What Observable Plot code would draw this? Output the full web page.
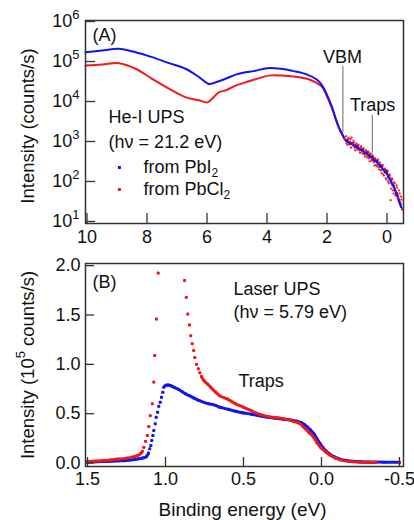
<!DOCTYPE html>
<html><head><meta charset="utf-8">
<script src="https://cdn.jsdelivr.net/npm/d3@7"></script>
<script src="https://cdn.jsdelivr.net/npm/@observablehq/plot@0.6"></script>
<style>
body{margin:0;background:#fff;}
#chart{width:414px;height:520px;position:relative;background:#fff;}
svg{display:block;}
</style></head><body><div id="chart"></div>
<script>
// ---------- Panel A: He-I UPS (binding energy eV, counts/s) ----------
const heBlue = [[10.05,1.7e5],[9.49,1.88e5],[8.94,2.09e5],[8.38,1.7e5],[7.83,1.29e5],[7.27,9.1e4],[6.72,6.6e4],[6.27,4.1e4],[5.94,2.75e4],[5.72,3.0e4],[5.38,3.7e4],[5.05,4.7e4],[4.72,5.4e4],[4.44,5.75e4],[3.99,6.8e4],[3.55,6.6e4],[3.11,5.75e4],[2.66,4.7e4],[2.33,3.5e4],[2.16,2.5e4],[1.99,1.4e4],[1.83,7.2e3],[1.72,3.9e3],[1.60,2.2e3],[1.49,1.5e3],[1.38,1.07e3],[1.2,890],[1.0,720],[0.8,575],[0.66,490],[0.5,390],[0.33,300],[0.15,210],[0.0,155],[-0.1,112],[-0.23,72],[-0.39,34],[-0.47,23]];
const heRed = [[10.05,7.9e4],[9.49,8.4e4],[8.94,9.1e4],[8.38,6.6e4],[7.83,3.7e4],[7.27,2.1e4],[6.72,1.29e4],[6.27,1.07e4],[5.99,9.5e3],[5.83,1.17e4],[5.61,1.7e4],[5.38,1.9e4],[5.05,2.5e4],[4.72,3.0e4],[4.44,3.5e4],[3.88,4.5e4],[3.22,4.3e4],[2.66,3.7e4],[2.38,3.0e4],[2.16,2.3e4],[1.99,1.29e4],[1.83,6.6e3],[1.72,3.9e3],[1.60,2.2e3],[1.49,1.5e3],[1.38,1.07e3],[1.2,890],[1.0,720],[0.8,575],[0.66,490],[0.5,390],[0.33,300],[0.15,210],[0.0,155],[-0.1,112],[-0.23,72],[-0.39,34],[-0.47,23]];
const heRedTail = [[1.40,1150],[1.37,1350],[1.35,900],[1.32,830],[1.30,1150],[1.28,1250],[1.26,850],[1.24,1000],[1.22,1150],[1.20,710],[1.18,1260],[1.16,900],[1.14,790],[1.12,1050],[1.10,950],[1.08,700],[1.06,600],[1.04,820],[1.02,890],[1.00,650],[0.98,630],[0.96,800],[0.95,830],[0.92,600],[0.90,525],[0.88,700],[0.86,760],[0.84,560],[0.82,500],[0.80,650],[0.78,680],[0.76,480],[0.74,420],[0.72,600],[0.70,600],[0.68,450],[0.66,400],[0.64,560],[0.62,550],[0.60,380],[0.58,320],[0.56,500],[0.54,480],[0.52,350],[0.50,330],[0.48,450],[0.46,420],[0.44,300],[0.42,250],[0.40,380],[0.38,360],[0.36,260],[0.34,240],[0.32,330],[0.30,355],[0.28,230],[0.26,200],[0.24,300],[0.22,265],[0.20,190],[0.18,160],[0.16,260],[0.14,250],[0.12,150],[0.10,140],[0.08,210],[0.06,200],[0.04,120],[0.02,112],[0.00,190],[-0.02,180],[-0.04,100],[-0.06,90],[-0.08,150],[-0.10,140],[-0.12,34],[-0.14,66],[-0.16,120],[-0.18,112],[-0.20,60],[-0.22,50],[-0.24,95],[-0.26,90],[-0.28,45],[-0.30,56],[-0.32,80],[-0.34,70],[-0.36,38],[-0.38,40],[-0.40,60],[-0.42,50],[-0.44,30],[-0.45,28],[-0.47,42],[-0.48,35],[-0.50,20]];
const heBlueTail = [[1.34,1100],[1.30,1000],[1.26,950],[1.22,860],[1.17,920],[1.12,850],[1.08,760],[1.05,740],[1.0,780],[0.96,720],[0.92,640],[0.88,620],[0.84,640],[0.80,600],[0.76,520],[0.72,500],[0.68,540],[0.64,500],[0.60,430],[0.56,410],[0.52,420],[0.48,400],[0.44,340],[0.40,330],[0.36,330],[0.32,320],[0.28,270],[0.24,240],[0.20,250],[0.16,230],[0.12,190],[0.08,170],[0.04,180],[0.0,170],[-0.03,130],[-0.06,120],[-0.09,115],[-0.12,110],[-0.15,90],[-0.18,80],[-0.21,82],[-0.24,75],[-0.27,60],[-0.30,50],[-0.33,52],[-0.36,45],[-0.39,36],[-0.42,30],[-0.44,28],[-0.46,25],[-0.49,22]];
const aTicksX = [10, 8, 6, 4, 2, 0];
const aTicksY = [1e1, 1e2, 1e3, 1e4, 1e5, 1e6];
const vbmLine = {x: 1.47, y1: 7.5e4, y2: 1.6e3};
const aTrapsLine = {x: 0.49, y1: 4.5e3, y2: 500};

// ---------- Panel B: Laser UPS (binding energy eV, 10^5 counts/s) ----------
const laserBlue = [[1.50,0.010],[1.45,0.012],[1.40,0.015],[1.35,0.018],[1.30,0.022],[1.25,0.027],[1.20,0.035],[1.17,0.043],[1.15,0.05],[1.139,0.053],[1.122,0.066],[1.109,0.10],[1.101,0.144],[1.094,0.177],[1.088,0.228],[1.081,0.279],[1.075,0.33],[1.066,0.397],[1.06,0.465],[1.051,0.515],[1.043,0.576],[1.034,0.617],[1.026,0.667],[1.017,0.718],[1.011,0.769],[1.0,0.785],[0.99,0.79],[0.98,0.79],[0.968,0.786],[0.955,0.775],[0.94,0.763],[0.915,0.745],[0.89,0.72],[0.87,0.70],[0.85,0.685],[0.82,0.66],[0.786,0.634],[0.75,0.612],[0.72,0.600],[0.68,0.585],[0.65,0.565],[0.60,0.545],[0.55,0.525],[0.50,0.508],[0.45,0.495],[0.40,0.48],[0.35,0.466],[0.30,0.455],[0.25,0.445],[0.20,0.437],[0.16,0.425],[0.13,0.41],[0.11,0.39],[0.09,0.365],[0.07,0.335],[0.05,0.30],[0.03,0.25],[0.01,0.20],[-0.01,0.155],[-0.03,0.12],[-0.05,0.095],[-0.08,0.065],[-0.11,0.045],[-0.15,0.028],[-0.20,0.018],[-0.25,0.013],[-0.30,0.011],[-0.40,0.009],[-0.50,0.008]];
const laserRed = [[1.50,0.015],[1.45,0.02],[1.40,0.025],[1.35,0.032],[1.30,0.040],[1.25,0.050],[1.20,0.065],[1.18,0.075],[1.16,0.095],[1.148,0.12],[1.139,0.16],[1.128,0.22],[1.117,0.28],[1.107,0.37],[1.098,0.48],[1.085,0.60],[1.075,0.82],[1.069,1.09],[1.058,1.46],[1.047,1.925],[0.878,1.85],[0.867,1.68],[0.857,1.51],[0.846,1.40],[0.838,1.29],[0.829,1.21],[0.819,1.14],[0.812,1.07],[0.801,1.0],[0.790,0.955],[0.780,0.915],[0.770,0.877],[0.754,0.837],[0.73,0.80],[0.712,0.77],[0.68,0.72],[0.65,0.68],[0.605,0.65],[0.55,0.60],[0.50,0.566],[0.45,0.53],[0.39,0.49],[0.34,0.47],[0.28,0.458],[0.23,0.445],[0.18,0.424],[0.14,0.40],[0.114,0.363],[0.08,0.31],[0.05,0.26],[0.03,0.21],[0.006,0.16],[-0.03,0.11],[-0.058,0.076],[-0.09,0.05],[-0.12,0.032],[-0.18,0.015],[-0.25,0.008],[-0.35,0.005],[-0.50,0.003]];
const bTicksX = [1.5, 1.0, 0.5, 0.0, -0.5];
const bTicksY = [0, 0.5, 1.0, 1.5, 2.0];

// ---------- styling ----------
const FONT = '"Liberation Sans", Arial, Helvetica, sans-serif';
const FS = 18;
const BLUE = "#1212f2", RED = "#f01818", AXC = "#333";
const W = 414;

const rows = (arr) => arr.map(([x, y]) => ({x, y}));

// split into line segments where the reference's dense dots stay separate (steep parts, off-scale gaps)
function segment(arr, kx, ky) {
  let seg = 0;
  return arr.map(([x, y], i) => {
    if (i > 0) {
      const dx = Math.abs(x - arr[i-1][0]) * kx, dy = Math.abs(y - arr[i-1][1]) * ky;
      if (dy > 2.2 * dx || dx > 20) seg++;
    }
    return {x, y, seg};
  });
}

function rich(svg, fs) {
  d3.select(svg).selectAll("text").each(function() {
    const s = this.textContent;
    if (!/[\^_]\{/.test(s)) return;
    const el = d3.select(this);
    el.selectAll("*").remove(); el.text(null);
    const re = /([\^_])\{([^}]*)\}/g;
    let last = 0, m, shift = 0;
    const add = (txt, kind) => {
      const t = el.append("tspan").text(txt);
      const target = kind === "^" ? -0.45 * fs : kind === "_" ? 0.2 * fs : 0;
      if (target - shift) t.attr("dy", target - shift);
      shift = target;
      if (kind) t.attr("font-size", Math.round((kind === "_" ? 0.68 : 0.72) * fs));
    };
    while ((m = re.exec(s))) {
      if (m.index > last) add(s.slice(last, m.index), null);
      add(m[2], m[1]);
      last = re.lastIndex;
    }
    if (last < s.length) add(s.slice(last), null);
  });
}

function insideTicks(tx, ty, fw, fh, len) {
  return [
    Plot.tickX(tx, {x: d => d, insetTop: fh - len, stroke: AXC, strokeWidth: 1.3}),
    Plot.tickY(ty, {y: d => d, insetRight: fw - len, stroke: AXC, strokeWidth: 1.3})
  ];
}

const txt = (t, x, y, o = {}) => Plot.text([{t, x, y}], {x: "x", y: "y", text: "t", textAnchor: "start", lineAnchor: "middle", fill: "#111", fontSize: FS, ...o});

// ---------- Panel A ----------
const aM = {t: 20, b: 27, l: 85, r: 11, h: 250};
const aFW = W - aM.l - aM.r, aFH = aM.h - aM.t - aM.b;
const plotA = Plot.plot({
  width: W, height: aM.h, marginTop: aM.t, marginBottom: aM.b, marginLeft: aM.l, marginRight: aM.r,
  style: {fontFamily: FONT, fontSize: FS + "px", background: "white", color: "#111", overflow: "visible"},
  x: {domain: [10.05, -0.55], ticks: aTicksX, tickSize: 0, tickPadding: 7, tickFormat: d => String(d), label: null},
  y: {type: "log", domain: [8.9, 1.06e6], ticks: aTicksY, tickSize: 0, tickPadding: 6, tickFormat: d => `10^{${Math.round(Math.log10(d))}}`, label: null},
  marks: [
    Plot.line(rows(heRed), {x: "x", y: "y", stroke: RED, strokeWidth: 2, curve: "catmull-rom"}),
    Plot.line(rows(heBlue), {x: "x", y: "y", stroke: BLUE, strokeWidth: 2, curve: "catmull-rom"}),
    Plot.dot(rows(heRedTail), {x: "x", y: "y", r: 1.1, symbol: "square", fill: RED}),
    Plot.dot(rows(heBlueTail), {x: "x", y: "y", r: 1.0, symbol: "square", fill: BLUE}),
    Plot.ruleX([vbmLine], {x: "x", y1: "y1", y2: "y2", stroke: "#666", strokeWidth: 1}),
    Plot.ruleX([aTrapsLine], {x: "x", y1: "y1", y2: "y2", stroke: "#666", strokeWidth: 1}),
    txt("(A)", 9.82, 4.5e5),
    txt("He-I UPS", 9.28, 4.0e3),
    txt("(hν = 21.2 eV)", 9.28, 944),
    txt("VBM", 1.48, 1.26e5, {textAnchor: "middle"}),
    txt("Traps", 0.48, 7.9e3, {textAnchor: "middle"}),
    Plot.dot([{x: 8.92, y: 224}], {x: "x", y: "y", r: 1.7, symbol: "square", fill: BLUE}),
    Plot.dot([{x: 8.92, y: 63}], {x: "x", y: "y", r: 1.7, symbol: "square", fill: RED}),
    txt("from PbI_{2}", 8.12, 224),
    txt("from PbCl_{2}", 8.12, 63),
    Plot.text(["Intensity (counts/s)"], {frameAnchor: "left", dx: -52, dy: 4, rotate: -90, textAnchor: "middle", lineAnchor: "bottom", fontSize: FS + 0.5, fill: "#111"}),
    ...insideTicks(aTicksX, aTicksY, aFW, aFH, 10),
    Plot.frame({stroke: AXC, strokeWidth: 1.5})
  ]
});

// ---------- Panel B ----------
const bM = {t: 13, b: 54, l: 85, r: 11, h: 270};
const bFW = W - bM.l - bM.r, bFH = bM.h - bM.t - bM.b;
const bXd = [1.513, -0.526], bYd = [-0.035, 2.022];
const kx = bFW / Math.abs(bXd[1] - bXd[0]), ky = bFH / (bYd[1] - bYd[0]);
const fmt1 = d => d3.format(".1f")(d).replace("\u2212", "-");
const plotB = Plot.plot({
  width: W, height: bM.h, marginTop: bM.t, marginBottom: bM.b, marginLeft: bM.l, marginRight: bM.r,
  style: {fontFamily: FONT, fontSize: FS + "px", background: "white", color: "#111", overflow: "visible"},
  x: {domain: bXd, ticks: bTicksX, tickSize: 0, tickPadding: 6, tickFormat: fmt1, label: null},
  y: {domain: bYd, ticks: bTicksY, tickSize: 0, tickPadding: 5, tickFormat: fmt1, label: null},
  marks: [
    Plot.line(segment(laserBlue, kx, ky), {x: "x", y: "y", z: "seg", stroke: BLUE, strokeWidth: 3, curve: "catmull-rom"}),
    Plot.dot(rows(laserBlue), {x: "x", y: "y", r: 1.5, symbol: "square", fill: BLUE}),
    Plot.line(segment(laserRed, kx, ky), {x: "x", y: "y", z: "seg", stroke: RED, strokeWidth: 3, curve: "catmull-rom"}),
    Plot.dot(rows(laserRed), {x: "x", y: "y", r: 1.5, symbol: "square", fill: RED}),
    txt("(B)", 1.468, 1.83),
    txt("Laser UPS", 0.564, 1.765),
    txt("(hν = 5.79 eV)", 0.564, 1.53),
    txt("Traps", 0.532, 0.826),
    Plot.text(["Intensity (10^{5} counts/s)"], {frameAnchor: "left", dx: -52, dy: 0, rotate: -90, textAnchor: "middle", lineAnchor: "bottom", fontSize: FS + 0.5, fill: "#111"}),
    Plot.text(["Binding energy (eV)"], {frameAnchor: "bottom", dx: -2, dy: 49, textAnchor: "middle", lineAnchor: "bottom", fontSize: FS + 1, fill: "#111"}),
    ...insideTicks(bTicksX, bTicksY, bFW, bFH, 9),
    Plot.frame({stroke: AXC, strokeWidth: 1.5})
  ]
});

rich(plotA, FS);
rich(plotB, FS);
const root = document.getElementById("chart");
root.appendChild(plotA);
root.appendChild(plotB);
</script></body></html>
